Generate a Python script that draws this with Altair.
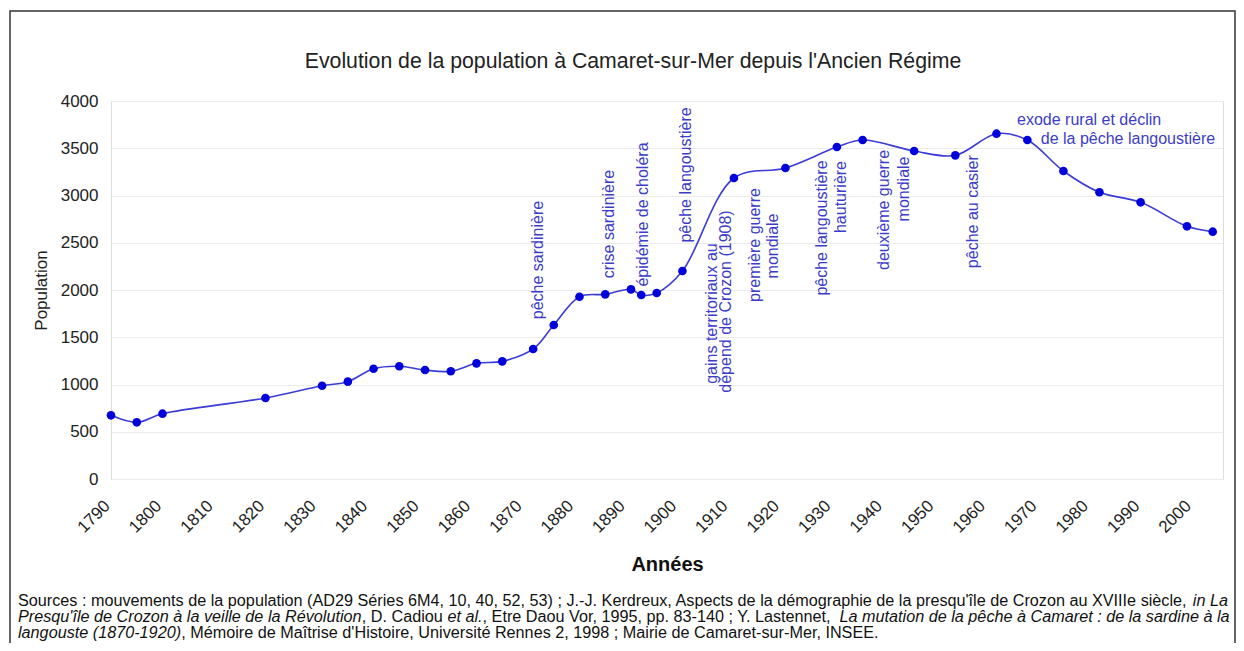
import altair as alt
import pandas as pd

# ---------------- data ----------------
years = [1790, 1795, 1800, 1820, 1831, 1836, 1841, 1846, 1851, 1856, 1861, 1866,
         1872, 1876, 1881, 1886, 1891, 1893, 1896, 1901, 1911, 1921, 1931, 1936,
         1946, 1954, 1962, 1968, 1975, 1982, 1990, 1999, 2004]
population = [674, 600, 691, 857, 987, 1030, 1167, 1193, 1153, 1140, 1224, 1245,
              1376, 1630, 1929, 1954, 2007, 1947, 1968, 2201, 3185, 3291, 3513, 3587,
              3471, 3425, 3654, 3587, 3259, 3034, 2928, 2674, 2617]

ann_vert_text = ["pêche sardinière", "crise sardinière", "épidémie de choléra",
                 "pêche langoustière", "gains territoriaux au", "dépend de Crozon (1908)",
                 "première guerre", "mondiale", "pêche langoustière", "hauturière",
                 "deuxième guerre", "mondiale", "pêche au casier"]
ann_vert_year = [1872.9, 1886.8, 1893.3, 1901.7, 1906.8, 1909.5,
                 1915.0, 1918.5, 1928.2, 1931.8, 1940.2, 1944.0, 1957.5]
ann_vert_pop = [2317, 2698, 2799, 3217, 1751, 1878,
                2476, 2466, 2656, 2984, 2847, 3069, 2829]

ann_horiz_text = ["exode rural et déclin", "de la pêche langoustière"]
ann_horiz_year = [1966.0, 1970.6]
ann_horiz_pop = [3799, 3595]

x_ticks = list(range(1790, 2001, 10))
y_ticks = list(range(0, 4001, 500))

title_text = "Evolution de la population à Camaret-sur-Mer depuis l'Ancien Régime"
x_title = "Années"
y_title = "Population"

source_lines = [
    [("Sources : mouvements de la population (AD29 Séries 6M4, 10, 40, 52, 53) ; J.-J. Kerdreux, "
      "Aspects de la démographie de la presqu'île de Crozon au XVIIIe siècle, ", False),
     ("in La", True)],
    [("Presqu'île de Crozon à la veille de la Révolution", True),
     (", D. Cadiou ", False),
     ("et al.", True),
     (", Etre Daou Vor, 1995, pp. 83-140 ; Y. Lastennet, ", False),
     ("La mutation de la pêche à Camaret : de la sardine à la", True)],
    [("langouste (1870-1920)", True),
     (", Mémoire de Maîtrise d'Histoire, Université Rennes 2, 1998 ; Mairie de Camaret-sur-Mer, INSEE.", False)],
]

# ---------------- layout ----------------
FONT = "Liberation Sans"
PLOT_W, PLOT_H = 1112, 378
PAD = {"left": 103, "top": 93, "right": 13, "bottom": 164}
OX, OY = PAD["left"] + 8, PAD["top"] + 8   # page position of the plot origin
LINE_COLOR = "#3b3bd6"
POINT_COLOR = "#0000dd"
ANN_COLOR = "#3c3cc8"

_widths = {}
for chars, wv in [(" ,.:;ftIî/![]", 278), ("ijlìí", 222), ("'", 191), ("r-()", 333),
                  ("cksvxyzçJ", 500), ("0123456789abdeghnopquéèêàâôûùL", 556),
                  ("FTZ", 611), ("ABEKPSVXYÉ", 667), ("CDHNRUw", 722), ("GOQ", 778),
                  ("Mm", 833), ("W", 944)]:
    for c in chars:
        _widths[c] = wv


def text_em(s):
    return sum(_widths.get(c, 556) for c in s) / 1000.0


SRC_X0 = 18 - OX
SRC_Y = [601 - OY, 617 - OY, 633 - OY]
SRC_TARGET_W = 1210
src_fs = SRC_TARGET_W / sum(text_em(s) for s, _ in source_lines[0])
title_fs = 657 / text_em(title_text)

base = alt.Chart(pd.DataFrame({"year": years, "population": population}))

xscale = alt.Scale(domain=[1790, 2006], nice=False, zero=False)
yscale = alt.Scale(domain=[0, 4000], nice=False)

line = base.mark_line(interpolate="catmull-rom", color=LINE_COLOR, strokeWidth=1.6).encode(
    x=alt.X("year:Q", scale=xscale,
            axis=alt.Axis(values=x_ticks, format="d", labelAngle=-45, labelAlign="right",
                          labelBaseline="middle", labelPadding=24, labelOffset=-4,
                          labelFontSize=17, labelFont=FONT, labelColor="#222",
                          ticks=False, domain=False, grid=False, title=x_title,
                          titleFont=FONT, titleFontSize=20, titleFontWeight="bold",
                          titleColor="#111", titlePadding=19)),
    y=alt.Y("population:Q", scale=yscale,
            axis=alt.Axis(values=y_ticks, format="d", labelFontSize=17, labelFont=FONT,
                          labelColor="#222", labelPadding=13, ticks=False, domain=False,
                          grid=True, gridColor="#ebebeb", title=y_title, titleFont=FONT,
                          titleFontSize=17, titleFontWeight="normal", titleColor="#222",
                          titlePadding=10)),
)
points = base.mark_circle(size=75, color=POINT_COLOR, opacity=1).encode(
    x="year:Q", y="population:Q")

ann_v = alt.Chart(pd.DataFrame({"t": ann_vert_text, "year": ann_vert_year,
                                "population": ann_vert_pop})).mark_text(
    angle=270, align="center", baseline="middle", fontSize=16, font=FONT, color=ANN_COLOR
).encode(x="year:Q", y="population:Q", text="t:N")

ann_h = alt.Chart(pd.DataFrame({"t": ann_horiz_text, "year": ann_horiz_year,
                                "population": ann_horiz_pop})).mark_text(
    align="left", baseline="middle", fontSize=16, font=FONT, color=ANN_COLOR
).encode(x="year:Q", y="population:Q", text="t:N")

one = alt.Data(values=[{"k": 1}])
layers = [line, points, ann_v, ann_h]

# chart title
layers.append(alt.Chart(one).mark_text(
    text=title_text, align="center", baseline="middle", fontSize=title_fs, font=FONT,
    color="#222").encode(x=alt.value(633 - OX), y=alt.value(62 - OY)))

# sources text, segment by segment (italic parts)
for li, segs in enumerate(source_lines):
    xpos = SRC_X0
    for s, ital in segs:
        kw = dict(align="left", baseline="middle", fontSize=src_fs, font=FONT,
                  color="#111", text=s)
        if ital:
            kw["fontStyle"] = "italic"
        layers.append(alt.Chart(one).mark_text(**kw).encode(
            x=alt.value(xpos), y=alt.value(SRC_Y[li])))
        xpos += text_em(s) * src_fs

# outer frame
layers.append(alt.Chart(one).mark_rect(fill=None, stroke="#333", strokeWidth=1.5).encode(
    x=alt.value(10 - OX), x2=alt.value(1235 - OX), y=alt.value(11 - OY),
    y2=alt.value(700 - OY)))

chart = alt.layer(*layers).properties(
    width=PLOT_W, height=PLOT_H,
    autosize=alt.AutoSizeParams(type="none"),
    padding=PAD,
).configure_view(stroke="#9aa3a6", strokeWidth=1.5).configure(background="white")

chart.save("out.html", embed_options={"renderer": "svg", "actions": False})
